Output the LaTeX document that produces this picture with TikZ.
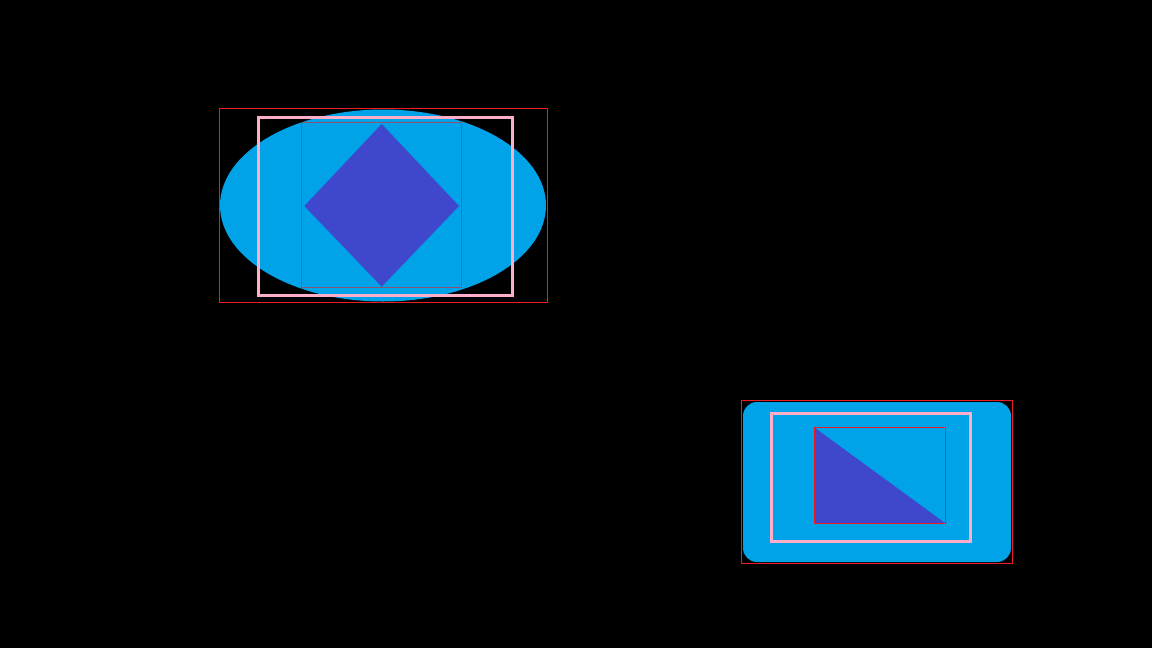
\documentclass[tikz,border=0pt]{standalone}
\usepackage{tikz}
\definecolor{skyblue}{RGB}{0,162,232}
\definecolor{indigo}{RGB}{63,72,204}
\definecolor{lightpink}{RGB}{255,174,201}
\definecolor{boxred}{RGB}{237,28,36}
\tikzset{
  bound/.style={draw=boxred, line width=0.9pt},
  frame/.style={draw=lightpink, line width=3pt},
}
\begin{document}
\begin{tikzpicture}[x=1pt,y=-1pt]
\fill[black] (0,0) rectangle (1152,648);
\path[use as bounding box] (0,0) rectangle (1152,648);
% upper left: ellipse with diamond
\fill[skyblue] (383,205.5) ellipse (163 and 96);
\draw[bound] (219.5,108.5) rectangle (547.5,302);
\draw[frame] (258.5,117.5) rectangle (512.5,295);
\fill[indigo] (381.7,124)--(459,206)--(381.7,286.7)--(304.3,206)--cycle;
\draw[bound, draw opacity=0.6] (301.5,122.5) rectangle (461.5,287.5);
% lower right: rounded box with triangle
\fill[skyblue, rounded corners=14] (743,402) rectangle (1011,562);
\draw[bound] (741.5,400.5) rectangle (1012.5,563.5);
\draw[frame] (771.5,413.5) rectangle (970.5,541.5);
\fill[indigo] (815,428)--(945,523)--(815,523)--cycle;
\draw[bound] (814.5,427.5) rectangle (945.5,523.5);
\end{tikzpicture}
\end{document}
